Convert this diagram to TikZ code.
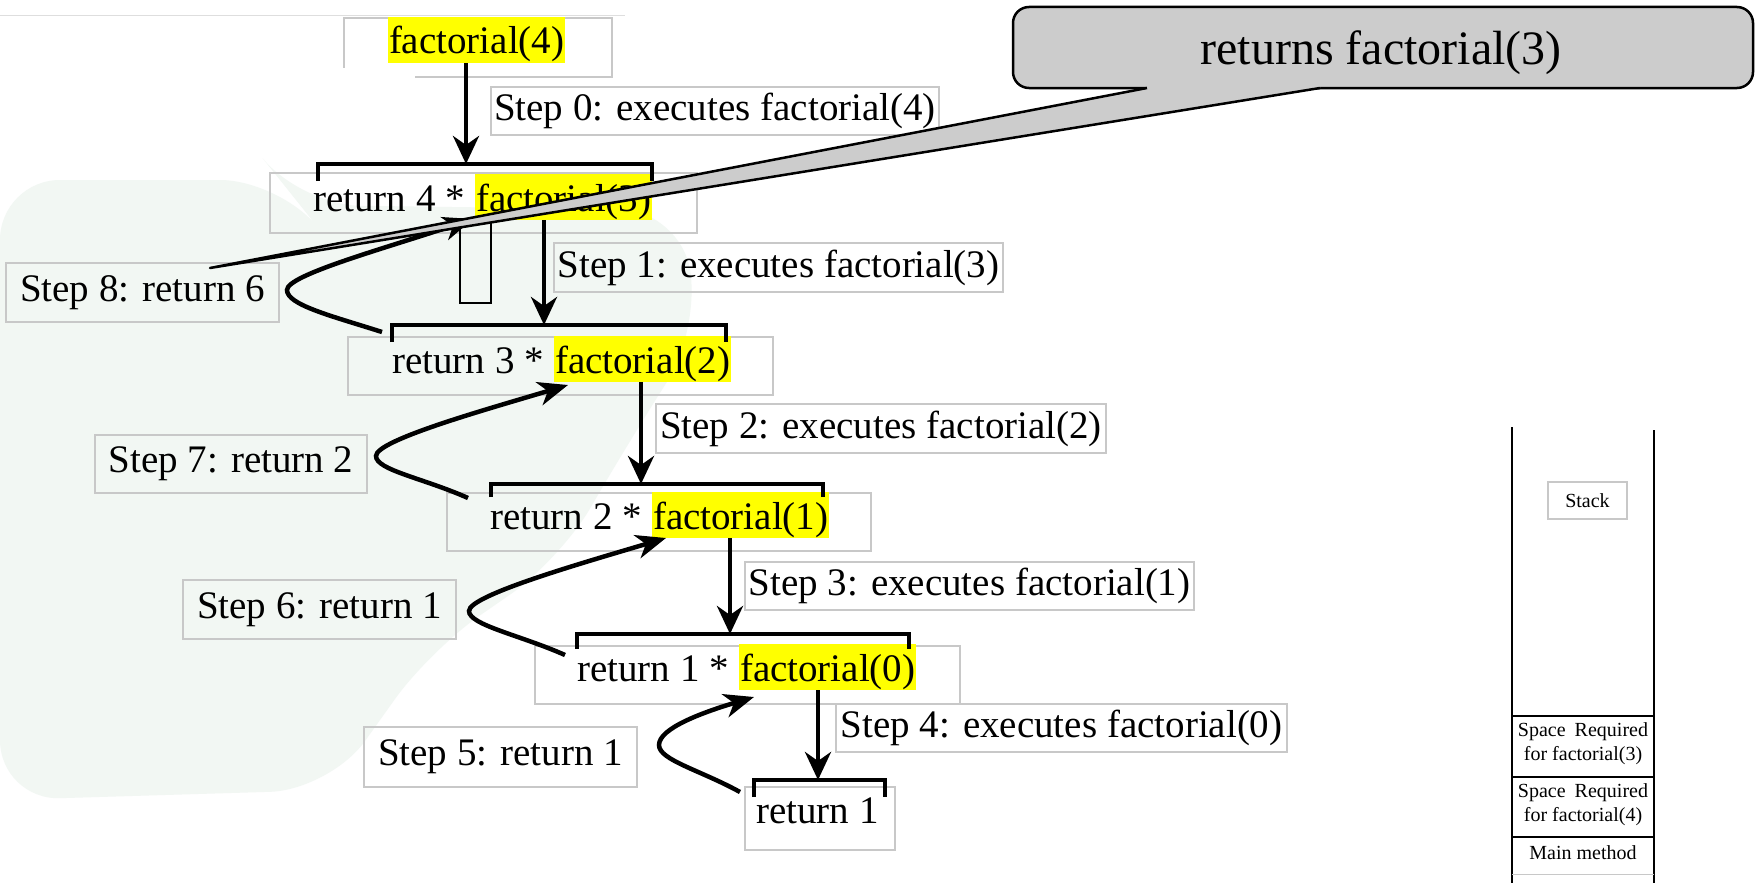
\documentclass[tikz,border=0pt]{standalone}
\usepackage{fontspec}
\setmainfont{Liberation Serif}
\usetikzlibrary{arrows.meta}
\definecolor{boxgray}{RGB}{200,200,200}
\definecolor{callgray}{RGB}{204,204,204}
\definecolor{hlyellow}{RGB}{255,255,0}
\definecolor{wash}{RGB}{242,247,243}
\begin{document}
\begin{tikzpicture}[x=1pt,y=-1pt,
  lab/.style={font=\fontsize{39}{44}\selectfont, inner sep=0pt},
  stepbox/.style={lab, draw=boxgray, line width=1.2pt},
  gbox/.style={draw=boxgray, line width=1.2pt, inner sep=0pt},
  hl/.style={lab, fill=hlyellow, text height=37pt, text depth=9pt, minimum width=177pt},
  varr/.style={line width=4.5pt, -{Stealth[length=28pt,width=26pt,inset=9pt]}},
  rarr/.style={line width=4.5pt, -{Stealth[length=30pt,width=24pt,inset=9pt]}},
  brk/.style={line width=3.5pt},
  stk/.style={font=\fontsize{20}{24}\selectfont, inner sep=0pt, align=center},
  stkline/.style={line width=2.5pt},
]
\useasboundingbox (0,0) rectangle (1758,883);
\fill[white] (0,0) rectangle (1758,883);
% faint background wash
\fill[wash, rounded corners=60pt] (0,180) -- (280,180) -- (300,205) -- (680,210) -- (700,330) -- (630,440) -- (560,560) -- (430,650) -- (330,790) -- (0,800) -- cycle;
\draw[boxgray!60, line width=1pt] (0,16) -- (625,16);

% factorial(4)
\draw[boxgray, line width=1.2pt] (415,77) -- (612,77) -- (612,18) -- (344,18) -- (344,68);
\node[hl, anchor=base west] (f4) at (388,54) {factorial(4)};
\node[stepbox, minimum width=448pt, minimum height=48pt] (s0) at (715,111) {Step 0: executes factorial(4)};

% return 4 * factorial(3)
\node[gbox, minimum width=427pt, minimum height=60pt] (r4box) at (483.5,203) {};
\node[hl, anchor=base west] (f3) at (475,211) {factorial(3)};
\node[lab, anchor=base east, xshift=-10pt] (r4) at (f3.base west) {return 4 *};
\draw[brk] (318,181) -- (318,164) -- (652,164) -- (652,181);
\coordinate (b4) at (466,164);
\draw[varr] (f4.south -| b4) -- (b4);

\node[stepbox, minimum width=449pt, minimum height=49pt] (s1) at (778.5,267.5) {Step 1: executes factorial(3)};
\node[draw, line width=2pt, minimum width=31pt, minimum height=84pt, inner sep=0pt] (mark) at (475.5,261) {};
\node[stepbox, minimum width=273pt, minimum height=59pt] (s8) at (142.5,292.5) {Step 8: return 6};

% return 3 * factorial(2)
\node[gbox, minimum width=425pt, minimum height=58pt] (r3box) at (560.5,366) {};
\node[hl, anchor=base west] (f2) at (554,373) {factorial(2)};
\node[lab, anchor=base east, xshift=-10pt] (r3) at (f2.base west) {return 3 *};
\draw[brk] (392,342) -- (392,325) -- (726,325) -- (726,342);
\coordinate (b3) at (544,325);
\draw[varr] (f3.south -| b3) -- (b3);

\node[stepbox, minimum width=450pt, minimum height=49pt] (s2) at (881,428.5) {Step 2: executes factorial(2)};
\node[stepbox, minimum width=272pt, minimum height=58pt] (s7) at (231,464) {Step 7: return 2};

% return 2 * factorial(1)
\node[gbox, minimum width=424pt, minimum height=58pt] (r2box) at (659,522) {};
\node[hl, anchor=base west] (f1) at (652,529) {factorial(1)};
\node[lab, anchor=base east, xshift=-10pt] (r2) at (f1.base west) {return 2 *};
\draw[brk] (491,497) -- (491,484) -- (823,484) -- (823,497);
\coordinate (b2) at (641,484);
\draw[varr] (f2.south -| b2) -- (b2);

\node[stepbox, minimum width=449pt, minimum height=48pt] (s3) at (969.5,586) {Step 3: executes factorial(1)};
\node[stepbox, minimum width=273pt, minimum height=59pt] (s6) at (319.5,609.5) {Step 6: return 1};

% return 1 * factorial(0)
\node[gbox, minimum width=425pt, minimum height=58pt] (r1box) at (747.5,675) {};
\node[hl, anchor=base west] (f0) at (739,681) {factorial(0)};
\node[lab, anchor=base east, xshift=-10pt] (r1) at (f0.base west) {return 1 *};
\draw[brk] (577,649) -- (577,634) -- (909,634) -- (909,649);
\coordinate (b1) at (730,634);
\draw[varr] (f1.south -| b1) -- (b1);

\node[stepbox, minimum width=451pt, minimum height=48pt] (s4) at (1061.5,728) {Step 4: executes factorial(0)};
\node[stepbox, minimum width=273pt, minimum height=60pt] (s5) at (500.5,757) {Step 5: return 1};

% return 1
\node[gbox, minimum width=150pt, minimum height=63pt] (r0box) at (820,818.5) {};
\node[lab, anchor=base west] (r0) at (756,823) {return 1};
\draw[brk] (754,797) -- (754,780) -- (885,780) -- (885,797);
\coordinate (b0) at (818,780);
\draw[varr] (f0.south -| b0) -- (b0);

% return arrows
\coordinate (c5s) at (740,792);
\coordinate (c5t) at (754,697);
\draw[rarr] (c5s) .. controls (700,770) and (659,760) .. (659,745) .. controls (659,728) and (704,712) .. (c5t);
\coordinate (c6s) at (565,655);
\coordinate (c6t) at (666,538);
\draw[rarr] (c6s) .. controls (520,635) and (469,625) .. (469,611) .. controls (469,595) and (586,562) .. (c6t);
\coordinate (c7s) at (468,498);
\coordinate (c7t) at (568,385);
\draw[rarr] (c7s) .. controls (423,478) and (376,470) .. (376,456) .. controls (376,440) and (488,409) .. (c7t);
\coordinate (c8s) at (382,332);
\coordinate (c8t) at (473,219);
\draw[rarr] (c8s) .. controls (332,316) and (287,305) .. (287,290) .. controls (287,275) and (383,249) .. (c8t);

% callout
\node[draw, fill=callgray, rounded corners=16pt, line width=2.5pt, minimum width=740pt, minimum height=81pt, inner sep=0pt] (call) at (1383,47.5) {};
\coordinate (tailtip) at (210,268);
\fill[callgray] (1147,88) -- (tailtip) -- (1320,88) -- (1320,84) -- (1147,84) -- cycle;
\draw[line width=2.5pt, line join=round] (1147,88) -- (tailtip) -- (1320,88);
\node[font=\fontsize{48}{52}\selectfont, inner sep=0pt] (calltxt) at (1381,53) {returns factorial(3)};

% stack
\draw[line width=2pt] (1512,427) -- (1512,883);
\draw[line width=2pt] (1654,430) -- (1654,883);
\node[gbox, stk, minimum width=79pt, minimum height=37pt] (stack) at (1587.5,500.5) {Stack};
\draw[stkline] (1512,716) -- (1654,716);
\draw[stkline] (1512,777) -- (1654,777);
\draw[stkline] (1512,837) -- (1654,837);
\draw[boxgray, line width=1pt] (1512,874) -- (1654,874);
\node[stk] (sp3) at (1583,744) {Space\hspace{9pt}Required\\for factorial(3)};
\node[stk] (sp4) at (1583,805) {Space\hspace{9pt}Required\\for factorial(4)};
\node[stk] (mainm) at (1583,853) {Main method};
\end{tikzpicture}
\end{document}
